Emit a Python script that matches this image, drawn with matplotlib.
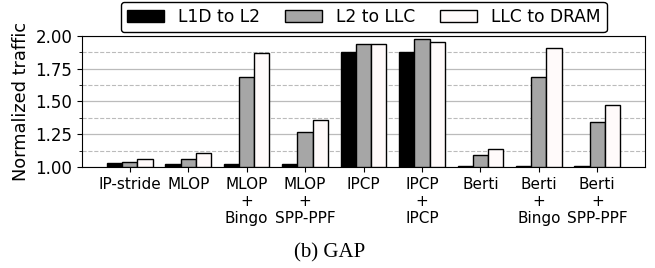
import numpy as np
import matplotlib.pyplot as plt
from matplotlib.ticker import MultipleLocator

categories = ['IP-stride', 'MLOP', 'MLOP\n+\nBingo', 'MLOP\n+\nSPP-PPF', 'IPCP',
              'IPCP\n+\nIPCP', 'Berti', 'Berti\n+\nBingo', 'Berti\n+\nSPP-PPF']
l1d_to_l2 = [1.03, 1.025, 1.025, 1.025, 1.88, 1.88, 1.01, 1.01, 1.01]
l2_to_llc = [1.04, 1.06, 1.69, 1.27, 1.94, 1.975, 1.09, 1.69, 1.34]
llc_to_dram = [1.06, 1.11, 1.87, 1.36, 1.935, 1.955, 1.14, 1.905, 1.47]
series_names = ['L1D to L2', 'L2 to LLC', 'LLC to DRAM']

fig = plt.figure(figsize=(6.55, 2.68), dpi=100)
ax = fig.add_axes([0.125, 0.377, 0.86, 0.489])

x = np.arange(len(categories))
w = 0.26
colors = ['black', '#a6a6a6', '#fffafa']
for i, (vals, c, name) in enumerate(zip([l1d_to_l2, l2_to_llc, llc_to_dram], colors, series_names)):
    ax.bar(x + (i - 1) * w, np.array(vals) - 1.0, w, bottom=1.0, color=c,
           edgecolor='black', linewidth=1.0, label=name, zorder=3)

ax.set_ylim(1.0, 2.0)
ax.set_xlim(-0.82, len(categories) - 1 + 0.82)
ax.yaxis.set_major_locator(MultipleLocator(0.25))
ax.yaxis.set_minor_locator(MultipleLocator(0.125))
ax.yaxis.set_major_formatter('{x:.2f}')
ax.grid(axis='y', which='major', color='#bbbbbb', linewidth=0.9, zorder=0)
ax.grid(axis='y', which='minor', color='#bbbbbb', linewidth=0.8, linestyle='--', zorder=0)
ax.tick_params(axis='y', which='minor', length=2.5)
ax.set_xticks(x)
ax.set_xticklabels(categories, fontsize=11, linespacing=1.2)
ax.tick_params(axis='y', labelsize=12)
ax.set_ylabel('Normalized traffic', fontsize=12.8)

ax.legend(loc='lower center', bbox_to_anchor=(0.5, 1.03), borderaxespad=0, ncol=3,
          fontsize=12.3, frameon=True, edgecolor='black', framealpha=1, fancybox=True,
          borderpad=0.35, columnspacing=1.45, handlelength=2.2)

fig.text(0.504, 0.056, '(b) GAP', ha='center', va='center', fontsize=15,
         family=['Liberation Serif', 'DejaVu Serif'])

fig.savefig('out.png', dpi=100)
